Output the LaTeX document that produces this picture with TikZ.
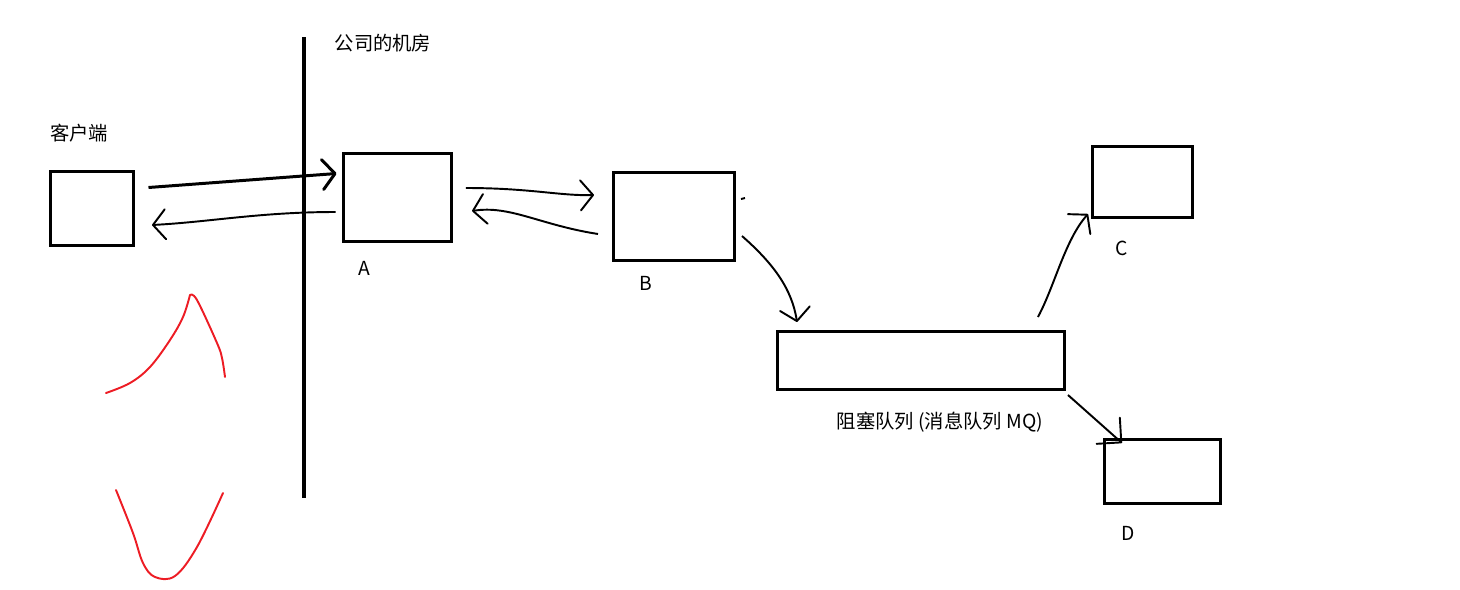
\documentclass[tikz,border=0pt]{standalone}
\usepackage{fontspec}
\setmainfont{Noto Sans CJK SC}
\usepackage{xcolor}
\definecolor{inkblack}{RGB}{0,0,0}
\definecolor{penred}{RGB}{237,28,36}
\usetikzlibrary{arrows.meta, calc}

\begin{document}
\begin{tikzpicture}[
    x=0.02cm, y=-0.02cm,
    box/.style={rectangle, draw=inkblack, line width=1.8pt,
                inner sep=0pt, outer sep=0pt},
    arr/.style={-{Straight Barb[length=2.5mm, width=6mm, round]}, line width=1.1pt, color=inkblack},
    boldarr/.style={arr, line width=1.7pt},
    note/.style={font=\fontsize{11pt}{13pt}\selectfont, inner sep=0pt},
    wall/.style={line width=2pt, color=inkblack},
    scribble/.style={draw=penred, line width=1.1pt, line cap=round, line join=round}
]
    \useasboundingbox (0,0) rectangle (1460,589);

    % boxes
    \node[box, minimum width=1.66cm, minimum height=1.48cm] (client) at (92,208.5)   {};
    \node[box, minimum width=2.16cm, minimum height=1.76cm] (A)      at (397.5,197.5) {};
    \node[box, minimum width=2.42cm, minimum height=1.76cm] (B)      at (674,216.5)   {};
    \node[box, minimum width=5.74cm, minimum height=1.16cm] (queue)  at (921,360.5)   {};
    \node[box, minimum width=2.00cm, minimum height=1.42cm] (C)      at (1142.5,182)  {};
    \node[box, minimum width=2.32cm, minimum height=1.28cm] (D)      at (1162.5,471.5) {};

    % labels
    \node[note] (roomlbl)   at (383,43)   {公司的机房};
    \node[note] (clientlbl) at (79,133)   {客户端};
    \node[note] (Albl)      at (364,268)  {A};
    \node[note] (Blbl)      at (646,283)  {B};
    \node[note] (Clbl)      at (1122,248) {C};
    \node[note] (Dlbl)      at (1128,533) {D};
    \node[note] (queuelbl)  at (940,422)  {阻塞队列 (消息队列 MQ)};

    % the wall
    \draw[wall] (304,37) -- (304,498);

    % connectors
    \draw[boldarr] ([shift={(15,-21)}]client.east) -- ([shift={(-7,-24)}]A.west);
    \draw[arr] ([shift={(-8,14.5)}]A.west)
        .. controls (260,212) and (210,222) .. ([shift={(18.5,16.5)}]client.east);
    \draw[arr] ([shift={(14.5,-9.5)}]A.east)
        .. controls (530,188) and (560,196) .. ([shift={(-19.5,-21.5)}]B.west);
    \draw[arr] ([shift={(-15.5,17.5)}]B.west)
        .. controls (540,225) and (510,205) .. ([shift={(20.5,13.5)}]A.east);
    \draw[arr] ([shift={(7.5,19.5)}]B.east)
        .. controls (775,265) and (792,290) .. ([shift={(19.5,-9.5)}]queue.north west);
    \draw[arr] ([shift={(-26.5,-14.5)}]queue.north east)
        .. controls (1055,285) and (1065,240) .. ([shift={(-4.5,-3.5)}]C.south west);
    \draw[arr, -{Straight Barb[length=3.5mm, width=7mm, round]}]
        ([shift={(3.5,5.5)}]queue.south east) -- ([shift={(17.5,3.5)}]D.north west);
    \draw[line width=1.1pt] (741,199) -- (745,198);

    % red scribbles
    \draw[scribble] plot[smooth, tension=0.6] coordinates {(106,393) (130,383) (150,367)
        (170,340) (183,317) (190,295)};
    \draw[scribble] plot[smooth, tension=0.6] coordinates {(190,295) (197,300) (217,343)
        (222,358) (225,377)};
    \draw[scribble] plot[smooth, tension=0.6] coordinates {(116,490) (133,533) (143,563)
        (155,577) (175,576) (197,547) (223,493)};
\end{tikzpicture}
\end{document}
